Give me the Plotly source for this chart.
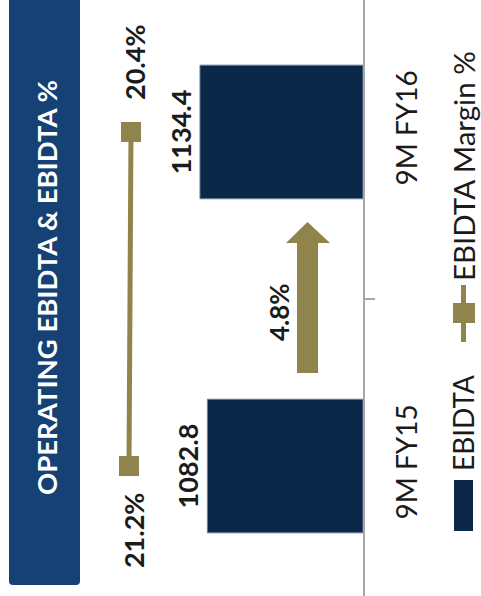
import plotly.graph_objects as go

# ---- data ----
periods = ["9M FY15", "9M FY16"]
ebidta = [1082.8, 1134.4]
ebidta_margin = [21.2, 20.4]
growth_label = "4.8%"
title_text = "OPERATING EBIDTA & EBIDTA %"
legend_names = ["EBIDTA", "EBIDTA Margin %"]

# ---- styling ----
W, H = 481, 596
PLOT_W = 363            # plot area spans x = 0..363 px, full height
NAVY = "#0b2849"
TITLE_BG = "#154174"
GOLD = "#8f844b"
AXIS_GREY = "#a8a8a8"
LABEL_FONT = "Lato"


def px(x):
    """pixel x -> paper x"""
    return x / PLOT_W


def py(y):
    """pixel y -> paper y"""
    return (H - y) / H


fig = go.Figure()

fig.add_trace(go.Bar(
    name=legend_names[0],
    x=ebidta,
    y=periods,
    orientation="h",
    width=0.4,
    marker=dict(color=NAVY, line=dict(color="#6d7f98", width=1)),
    text=[f"{v:.1f}" for v in ebidta],
    textposition="outside",
    textangle=-90,
    outsidetextfont=dict(family=LABEL_FONT, size=27, color="#1b1b1b", weight="bold"),
    cliponaxis=False,
    xaxis="x",
    yaxis="y",
    showlegend=False,
))

fig.add_trace(go.Scatter(
    name=legend_names[1],
    x=ebidta_margin,
    y=periods,
    mode="lines+markers",
    line=dict(color=GOLD, width=5),
    marker=dict(symbol="square", size=20, color=GOLD),
    xaxis="x2",
    yaxis="y",
    showlegend=False,
))

# margin value labels, rotated like the rest of the chart
shifts = [-64, 70]
for v, p, s in zip(ebidta_margin, periods, shifts):
    fig.add_annotation(
        x=v, y=p, xref="x2", yref="y",
        text=f"{v:.1f}%", textangle=-90, showarrow=False,
        xanchor="center", yanchor="middle", xshift=4, yshift=s,
        font=dict(family=LABEL_FONT, size=27, color="#1b1b1b", weight="bold"),
    )

shapes = []

# title banner with slightly rounded lower corners
x0, x1, y0, y1, r = px(9), px(80), py(-10), py(585), 4 / PLOT_W
ry = 4 / H
shapes.append(dict(
    type="path", xref="paper", yref="paper",
    path=(f"M {x0},{y0} L {x1},{y0} L {x1},{y1 + ry} "
          f"Q {x1},{y1} {x1 - r},{y1} L {x0 + r},{y1} "
          f"Q {x0},{y1} {x0},{y1 + ry} Z"),
    fillcolor=TITLE_BG, line=dict(width=0), layer="below",
))
fig.add_annotation(
    x=px(46), y=py(288), xref="paper", yref="paper",
    text=title_text, textangle=-90, showarrow=False,
    xanchor="center", yanchor="middle",
    font=dict(family=LABEL_FONT, size=27.5, color="white", weight="bold"),
)

# growth arrow between the two bars
arrow_pts = [(297, 373), (318, 373), (318, 243), (330, 243),
             (307.5, 222), (286, 243), (297, 243)]
path = "M " + " L ".join(f"{px(a)},{py(b)}" for a, b in arrow_pts) + " Z"
shapes.append(dict(type="path", xref="paper", yref="paper", path=path,
                   fillcolor=GOLD, line=dict(width=0)))
fig.add_annotation(
    x=px(279), y=py(312), xref="paper", yref="paper",
    text=growth_label, textangle=-90, showarrow=False,
    xanchor="center", yanchor="middle",
    font=dict(family=LABEL_FONT, size=26, color="#1b1b1b", weight="bold"),
)

# legend (rotated)
shapes.append(dict(type="rect", xref="paper", yref="paper",
                   x0=px(454), x1=px(473), y0=py(531), y1=py(480),
                   fillcolor=NAVY, line=dict(width=0)))
fig.add_annotation(
    x=px(463), y=py(423), xref="paper", yref="paper",
    text=legend_names[0], textangle=-90, showarrow=False,
    xanchor="center", yanchor="middle",
    font=dict(family=LABEL_FONT, size=28, color="#1b1b1b"),
)
shapes.append(dict(type="line", xref="paper", yref="paper",
                   x0=px(463.5), x1=px(463.5), y0=py(342), y1=py(285),
                   line=dict(color=GOLD, width=5)))
shapes.append(dict(type="rect", xref="paper", yref="paper",
                   x0=px(453), x1=px(475), y0=py(323), y1=py(303),
                   fillcolor=GOLD, line=dict(width=0)))
fig.add_annotation(
    x=px(463), y=py(166), xref="paper", yref="paper",
    text=legend_names[1], textangle=-90, showarrow=False,
    xanchor="center", yanchor="middle",
    font=dict(family=LABEL_FONT, size=29.5, color="#1b1b1b"),
)

fig.update_layout(
    width=W, height=H,
    margin=dict(l=0, r=W - PLOT_W, t=0, b=0),
    paper_bgcolor="white", plot_bgcolor="white",
    shapes=shapes,
    bargap=0.6,
    xaxis=dict(range=[2526, 0], visible=False, domain=[0, 1], fixedrange=True),
    xaxis2=dict(range=[72.8, -72.4], visible=False, overlaying="x", fixedrange=True),
    yaxis=dict(
        type="category", categoryorder="array", categoryarray=periods,
        range=[-0.389, 1.395], side="right",
        showline=True, linecolor=AXIS_GREY, linewidth=2,
        ticks="outside", tickson="boundaries", ticklen=10,
        tickcolor=AXIS_GREY, tickwidth=2,
        tickangle=-90, ticklabelstandoff=18,
        tickfont=dict(family=LABEL_FONT, size=28, color="#1b1b1b"),
        showgrid=False, zeroline=False, fixedrange=True,
    ),
    showlegend=False,
)

fig.write_html("out.html")
